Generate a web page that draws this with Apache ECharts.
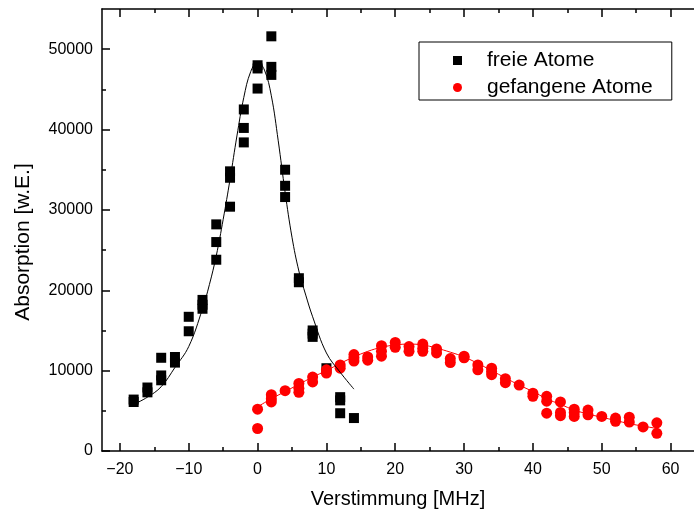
<!DOCTYPE html>
<html>
<head>
<meta charset="utf-8">
<script src="https://cdn.jsdelivr.net/npm/echarts@6/dist/echarts.min.js"></script>
<style>
  html, body { margin: 0; padding: 0; background: #fff; }
  #chart { width: 694px; height: 516px; }
</style>
</head>
<body>
<div id="chart"></div>
<script>
// Messpunkte: freie Atome (schwarze Quadrate)
var freeX = [-18, -18, -16, -16, -14, -14, -14, -12, -12, -10, -10, -8, -8, -8,
  -6, -6, -6, -4, -4, -4, -2, -2, -2, 0, 0, 0, 2, 2, 2, 4, 4, 4, 6, 6,
  8, 8, 8, 10, 12, 12, 12, 14];
var freeY = [6400, 6100, 7900, 7300, 11600, 9400, 8800, 11700, 11000, 16700, 14900, 18800, 18200, 17700,
  28200, 26000, 23800, 34800, 34000, 30400, 42500, 40200, 38400, 48000, 47600, 45100, 51600, 47800, 46800, 35000, 33000, 31600, 21500, 21000,
  15000, 14600, 14200, 10300, 6700, 6300, 4700, 4100];

// Messpunkte: gefangene Atome (rote Kreise)
var trapX = [0, 0, 2, 2, 2, 4, 6, 6, 6, 8, 8, 10, 10, 12, 12, 14, 14, 14, 16, 16,
  18, 18, 18, 20, 20, 22, 22, 24, 24, 24, 26, 26, 28, 28, 30, 30, 32, 32, 34, 34, 34,
  36, 36, 38, 40, 40, 42, 42, 42, 44, 44, 44, 46, 46, 46, 48, 48, 50, 52, 52, 54, 54, 56, 58, 58];
var trapY = [5200, 2800, 7000, 6500, 6100, 7500, 8400, 7800, 7300, 9200, 8600, 10100, 9700, 10700, 10300, 12000, 11600, 11200, 11700, 11300,
  13100, 12400, 11800, 13500, 12900, 13000, 12400, 13300, 12800, 12400, 12700, 12200, 11500, 11000, 11800, 11600, 10700, 10100, 10300, 9900, 9500,
  9000, 8500, 8200, 7200, 6800, 6800, 6200, 4700, 6100, 4800, 4400, 5200, 4800, 4300, 5100, 4500, 4300, 4100, 3700, 4200, 3600, 3000, 3500, 2200];

// Fitkurven
var fitFreeX = [-18, -16, -14, -12, -10, -8, -7, -6, -5, -4, -3, -2, -1, 0, 1, 2, 3, 4, 5, 6, 7, 8, 10, 12, 14];
var fitFreeY = [5800, 6700, 8000, 10400, 13000, 17700, 20700, 24300, 28800, 33800, 39200, 44000, 47200, 48400, 47400, 44200, 38600, 32200, 26600, 22400, 19400, 16700, 12200, 9800, 7700];
var fitTrapX = [0, 2, 4, 6, 8, 10, 12, 14, 16, 18, 20, 22, 24, 26, 28, 30, 32, 34, 36, 38, 40, 42, 44, 46, 48, 50, 52, 54, 56, 58];
var fitTrapY = [5500, 6500, 7400, 8300, 9200, 10000, 10900, 11700, 12400, 12900, 13200, 13300, 13200, 12800, 12300, 11700, 10900, 10000, 9100, 8200, 7400, 6500, 5800, 5100, 4600, 4200, 3800, 3400, 3100, 2800];

// Achsenbeschriftung
var xTicks = [-20, -10, 0, 10, 20, 30, 40, 50, 60];
var xMinorTicks = [-15, -5, 5, 15, 25, 35, 45, 55];
var yTicks = [0, 10000, 20000, 30000, 40000, 50000];
var yMinorTicks = [5000, 15000, 25000, 35000, 45000];

function pairs(xs, ys) {
  var out = [];
  for (var i = 0; i < xs.length; i++) out.push([xs[i], ys[i]]);
  return out;
}

var FONT = '"Liberation Sans", Arial, sans-serif';
var XMIN = -22.6, XMAX = 63.4, YMIN = 0, YMAX = 55000;
var axisLine = { show: true, onZero: false, lineStyle: { color: '#000', width: 1.5 } };
var noLine = { show: false, onZero: false };

function xAx(pos, ticks, len, main) {
  return {
    type: 'value', position: pos, min: XMIN, max: XMAX,
    axisLine: main ? axisLine : noLine,
    axisTick: { show: true, inside: true, length: len, customValues: ticks, lineStyle: { color: '#000', width: 1.5 } },
    axisLabel: main && pos === 'bottom' ? {
      show: true, customValues: xTicks, margin: 11, color: '#000', fontFamily: FONT, fontSize: 16,
      formatter: function (v) { return v < 0 ? '\u2212' + (-v) : String(v); }
    } : { show: false },
    splitLine: { show: false },
    name: main && pos === 'bottom' ? 'Verstimmung [MHz]' : '',
    nameLocation: 'middle', nameGap: 38,
    nameTextStyle: { color: '#000', fontFamily: FONT, fontSize: 20 }
  };
}

function yAx(ticks, len, main) {
  return {
    type: 'value', position: 'left', min: YMIN, max: YMAX,
    axisLine: main ? axisLine : noLine,
    axisTick: { show: true, inside: true, length: len, customValues: ticks, lineStyle: { color: '#000', width: 1.5 } },
    axisLabel: main ? {
      show: true, customValues: yTicks, margin: 9, color: '#000', fontFamily: FONT, fontSize: 16,
      formatter: function (v) { return String(v); }
    } : { show: false },
    splitLine: { show: false },
    name: main ? 'Absorption [w.E.]' : '',
    nameLocation: 'middle', nameGap: 68,
    nameTextStyle: { color: '#000', fontFamily: FONT, fontSize: 21, padding: [0, 24, 0, 0] }
  };
}

var chart = echarts.init(document.getElementById('chart'));
var option = {
  animation: false,
  backgroundColor: '#fff',
  grid: { left: 102, top: 9, right: 0, bottom: 65, containLabel: false },
  xAxis: [
    xAx('bottom', xTicks, 8, true),
    xAx('bottom', xMinorTicks, 4, false),
    xAx('top', xTicks, 8, true),
    xAx('top', xMinorTicks, 4, false)
  ],
  yAxis: [
    yAx(yTicks, 8, true),
    yAx(yMinorTicks, 4, false)
  ],
  legend: {
    orient: 'vertical', left: 419, top: 42,
    borderColor: '#000', borderWidth: 1, borderRadius: 0,
    padding: [8, 19, 2, 34],
    itemWidth: 9, itemHeight: 9, itemGap: 6,
    textStyle: { color: '#000', fontFamily: FONT, fontSize: 21, lineHeight: 20, padding: [0, 0, 0, 20] },
    data: [
      { name: 'freie Atome', icon: 'rect' },
      { name: 'gefangene Atome', icon: 'circle' }
    ]
  },
  series: [
    {
      name: 'freie Atome', type: 'scatter', symbol: 'rect', symbolSize: 10,
      itemStyle: { color: '#000', opacity: 1 }, data: pairs(freeX, freeY), z: 2
    },
    {
      name: 'gefangene Atome', type: 'scatter', symbol: 'circle', symbolSize: 11,
      itemStyle: { color: '#ff0000', opacity: 1 }, data: pairs(trapX, trapY), z: 3
    },
    {
      name: 'fit gefangen', type: 'line', smooth: 0.4, showSymbol: false,
      lineStyle: { color: '#ff0000', width: 1 }, data: pairs(fitTrapX, fitTrapY), z: 4
    },
    {
      name: 'fit frei', type: 'line', smooth: 0.4, showSymbol: false,
      lineStyle: { color: '#000', width: 1 }, data: pairs(fitFreeX, fitFreeY), z: 5
    }
  ]
};
chart.setOption(option);
</script>
</body>
</html>
